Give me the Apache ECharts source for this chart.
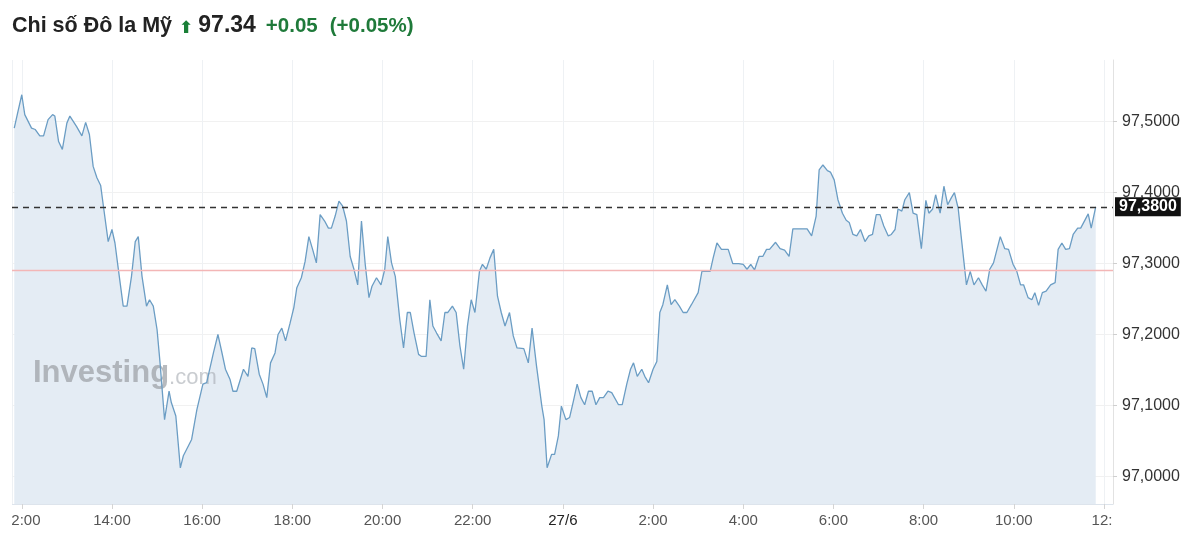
<!DOCTYPE html>
<html><head><meta charset="utf-8">
<script src="https://cdn.jsdelivr.net/npm/echarts@6/dist/echarts.min.js"></script>
<style>
html,body{margin:0;padding:0;background:#fff;overflow:hidden;width:1200px;height:556px}
#wrap{position:absolute;left:12px;top:0;width:1188px;height:556px}
</style></head><body><div id="wrap"></div>
<script>
// 26/6 intraday (time HH:MM, value)
const times26 = [
'11:50','11:54','12:00','12:04','12:13','12:18','12:24','12:29','12:35','12:41',
'12:44','12:49','12:54','13:00','13:04','13:13','13:20','13:25','13:30','13:35',
'13:40','13:45','13:49','13:55','14:00','14:04','14:08','14:15','14:20','14:26',
'14:31','14:35','14:40','14:46','14:50','14:55','15:00','15:04','15:10','15:16',
'15:19','15:25','15:31','15:35','15:46','15:53','16:01','16:06','16:15','16:21',
'16:26','16:31','16:37','16:41','16:46','16:55','17:01','17:06','17:10','17:16',
'17:21','17:26','17:31','17:37','17:41','17:46','17:51','17:57','18:02','18:06',
'18:12','18:17','18:22','18:27','18:32','18:37','18:43','18:48','18:52','18:57',
'19:02','19:07','19:12','19:17','19:22','19:27','19:32','19:37','19:42','19:46',
'19:52','19:58','20:03','20:07','20:12','20:17','20:23','20:28','20:33','20:37',
'20:42','20:48','20:52','20:58','21:03','21:07','21:12','21:18','21:23','21:27',
'21:33','21:38','21:43','21:48','21:53','21:58','22:03','22:09','22:13','22:18',
'22:23','22:28','22:33','22:38','22:43','22:49','22:54','22:59','23:08','23:14',
'23:19','23:25','23:32','23:35','23:39','23:45','23:49','23:54','23:58'];
const values26 = [
97.491,97.510,97.538,97.510,97.491,97.489,97.480,97.480,97.503,97.510,
97.508,97.472,97.461,97.498,97.508,97.493,97.480,97.499,97.482,97.437,
97.421,97.410,97.378,97.331,97.348,97.329,97.296,97.240,97.240,97.282,
97.331,97.338,97.282,97.240,97.249,97.240,97.207,97.160,97.080,97.120,
97.104,97.085,97.012,97.029,97.052,97.094,97.130,97.132,97.174,97.200,
97.176,97.151,97.137,97.120,97.120,97.151,97.141,97.181,97.180,97.144,
97.130,97.111,97.160,97.174,97.200,97.209,97.191,97.216,97.238,97.266,
97.280,97.303,97.338,97.320,97.301,97.369,97.360,97.350,97.350,97.367,
97.388,97.381,97.360,97.310,97.292,97.270,97.360,97.299,97.252,97.268,
97.280,97.270,97.292,97.338,97.301,97.282,97.221,97.181,97.231,97.231,
97.202,97.172,97.169,97.169,97.249,97.212,97.202,97.191,97.231,97.231,
97.240,97.231,97.184,97.151,97.212,97.249,97.231,97.289,97.299,97.292,
97.308,97.320,97.254,97.231,97.212,97.231,97.198,97.181,97.180,97.160,
97.209,97.155,97.099,97.080,97.012,97.031,97.031,97.057,97.099];
// 27/6 intraday
const times27 = [
'00:04','00:09','00:14','00:19','00:24','00:29','00:34','00:39','00:44','00:49',
'00:54','01:00','01:05','01:14','01:19','01:25','01:30','01:34','01:39','01:45',
'01:49','01:54','02:00','02:05','02:09','02:13','02:19','02:24','02:29','02:35',
'02:40','02:45','02:51','03:00','03:05','03:16','03:20','03:25','03:31','03:40',
'03:46','03:54','04:00','04:05','04:10','04:15','04:21','04:26','04:31','04:35',
'04:43','04:49','04:55','05:01','05:06','05:20','05:25','05:31','05:37','05:41',
'05:46','05:52','05:56','06:01','06:06','06:12','06:17','06:21','06:26','06:31',
'06:36','06:42','06:47','06:52','06:57','07:02','07:07','07:13','07:17','07:22',
'07:26','07:31','07:35','07:41','07:46','07:51','07:57','08:03','08:07','08:12',
'08:16','08:22','08:27','08:32','08:37','08:41','08:46','08:50','08:57','09:02',
'09:07','09:13','09:18','09:23','09:28','09:33','09:42','09:48','09:53','09:59',
'10:04','10:09','10:13','10:19','10:24','10:28','10:33','10:38','10:43','10:49',
'10:55','10:59','11:04','11:09','11:14','11:19','11:25','11:29','11:35','11:39',
'11:43','11:49'];
const values27 = [
97.080,97.083,97.106,97.130,97.111,97.101,97.120,97.120,97.101,97.111,
97.111,97.120,97.118,97.101,97.101,97.130,97.151,97.160,97.141,97.151,
97.141,97.132,97.151,97.162,97.231,97.242,97.270,97.242,97.249,97.240,
97.231,97.231,97.242,97.259,97.289,97.289,97.308,97.329,97.320,97.320,
97.300,97.300,97.299,97.292,97.299,97.291,97.310,97.310,97.320,97.320,
97.330,97.321,97.319,97.310,97.349,97.349,97.349,97.339,97.367,97.432,
97.439,97.431,97.429,97.418,97.390,97.371,97.361,97.358,97.341,97.339,
97.348,97.331,97.339,97.341,97.369,97.369,97.353,97.339,97.341,97.348,
97.377,97.374,97.390,97.400,97.371,97.369,97.321,97.389,97.371,97.377,
97.397,97.371,97.409,97.383,97.393,97.400,97.378,97.338,97.270,97.289,
97.270,97.280,97.270,97.261,97.292,97.301,97.338,97.321,97.320,97.299,
97.289,97.270,97.270,97.252,97.249,97.259,97.241,97.259,97.261,97.270,
97.273,97.320,97.329,97.320,97.321,97.341,97.350,97.350,97.362,97.370,
97.350,97.380];
const lastPrice = 97.38;
const prevClose = 97.29;
const xMin = '2025-06-26 11:47';
const xMax = '2025-06-27 12:12';
const yMin = 96.961;
const yMax = 97.587;

const data = [];
times26.forEach((t, i) => data.push(['2025-06-26 ' + t, values26[i]]));
times27.forEach((t, i) => data.push(['2025-06-27 ' + t, values27[i]]));
const lastTime = echarts.time.parse(data[data.length - 1][0]).getTime();

const fmtNum = v => v.toFixed(4).replace('.', ',');
const FONT = '"Liberation Sans", Arial, sans-serif';
const HOUR = 3600000;

const chart = echarts.init(document.getElementById('wrap'), null, {renderer: 'canvas'});
chart.setOption({
  animation: false,
  textStyle: {fontFamily: FONT},
  title: {
    left: 0, top: 13, padding: 0,
    text: '{a|Chi số Đô la Mỹ}{arr|⬆}{b|97.34}{c|+0.05}{c2|(+0.05%)}',
    textStyle: {
      rich: {
        a: {fontSize: 21.5, color: '#222', fontFamily: FONT, lineHeight: 24, verticalAlign: 'bottom'},
        arr: {fontSize: 17, color: '#1a7f37', fontFamily: 'DejaVu Sans', lineHeight: 22, verticalAlign: 'bottom', padding: [0, 5, 0, 7]},
        b: {fontSize: 23, fontWeight: 'bold', color: '#222', fontFamily: FONT, lineHeight: 24, verticalAlign: 'bottom', padding: [0, 10, 0, 0]},
        c: {fontSize: 20.5, fontWeight: 'bold', color: '#1f7a3a', fontFamily: FONT, lineHeight: 23, verticalAlign: 'bottom', padding: [0, 12, 0, 0]},
        c2: {fontSize: 20.5, fontWeight: 'bold', color: '#1f7a3a', fontFamily: FONT, lineHeight: 23, verticalAlign: 'bottom'}
      }
    }
  },
  graphic: [{
    type: 'text', left: 21, top: 358, z: 2, silent: true,
    style: {
      text: '{i|Investing}{c|.com}',
      rich: {
        i: {fontSize: 31, fontWeight: 'bold', fill: 'rgba(155,159,165,0.72)', fontFamily: FONT, lineHeight: 32, verticalAlign: 'bottom'},
        c: {fontSize: 22, fill: 'rgba(165,170,176,0.6)', fontFamily: FONT, lineHeight: 26, verticalAlign: 'bottom'}
      }
    }
  }],
  grid: {left: 0, right: 87, top: 60, bottom: 52, containLabel: false, outerBoundsMode: 'none'},
  xAxis: {
    type: 'time', min: xMin, max: xMax,
    minInterval: 2.5 * HOUR, maxInterval: 3 * HOUR, splitNumber: 12,
    axisLine: {show: true, lineStyle: {color: '#dde4ec', width: 1}},
    axisTick: {show: true, length: 5, lineStyle: {color: '#d4d4d4'}},
    splitLine: {show: true, lineStyle: {color: '#eef1f4', width: 1}},
    axisLabel: {
      fontSize: 15, color: '#555', margin: 9, hideOverlap: false, fontFamily: FONT,
      formatter: function (value) {
        const d = new Date(value);
        if (d.getMinutes() !== 0) return '';
        const h = d.getHours();
        if (h === 0) return '{d|' + d.getDate() + '/' + (d.getMonth() + 1) + '}';
        // the last tick label is cut by the price axis in the original
        if (value > lastTime) return '{clip|' + h + ':}';
        return h + ':00';
      },
      rich: {
        d: {fontSize: 15, color: '#222', fontFamily: FONT},
        clip: {fontSize: 15, color: '#555', fontFamily: FONT, padding: [0, 4, 0, 0]}
      }
    }
  },
  yAxis: {
    type: 'value', position: 'right', min: yMin, max: yMax, splitNumber: 6, scale: true,
    axisLine: {show: true, lineStyle: {color: '#e2e2e2'}},
    axisTick: {show: true, length: 4, lineStyle: {color: '#cfcfcf'}},
    splitLine: {show: true, showMinLine: false, showMaxLine: false, lineStyle: {color: '#f1f1f1'}},
    axisLabel: {
      showMinLabel: false, showMaxLabel: false, margin: 9, fontSize: 16, color: '#333', fontFamily: FONT,
      formatter: v => fmtNum(v)
    }
  },
  series: [{
    type: 'line', data: data, showSymbol: false, symbol: 'none', z: 1,
    lineStyle: {width: 0, opacity: 0},
    areaStyle: {color: '#e4ecf4', opacity: 1},
    emphasis: {disabled: true}, silent: true
  }, {
    type: 'line', data: data, showSymbol: false, symbol: 'none', z: 3,
    lineStyle: {color: '#6b9dc4', width: 1.3},
    emphasis: {disabled: true},
    markLine: {
      symbol: 'none', silent: true, animation: false,
      data: [
        {yAxis: prevClose, lineStyle: {type: 'solid', color: '#f3b6b6', width: 1.4}, label: {show: false}},
        {yAxis: lastPrice, lineStyle: {type: [6, 5], color: '#333', width: 1.3},
         label: {show: true, position: 'end', distance: 2, formatter: fmtNum(lastPrice),
                 backgroundColor: '#111', color: '#fff', fontWeight: 'bold', fontSize: 16,
                 fontFamily: FONT, padding: [2, 4, 1, 4]}}
      ]
    }
  }]
});
</script></body></html>
